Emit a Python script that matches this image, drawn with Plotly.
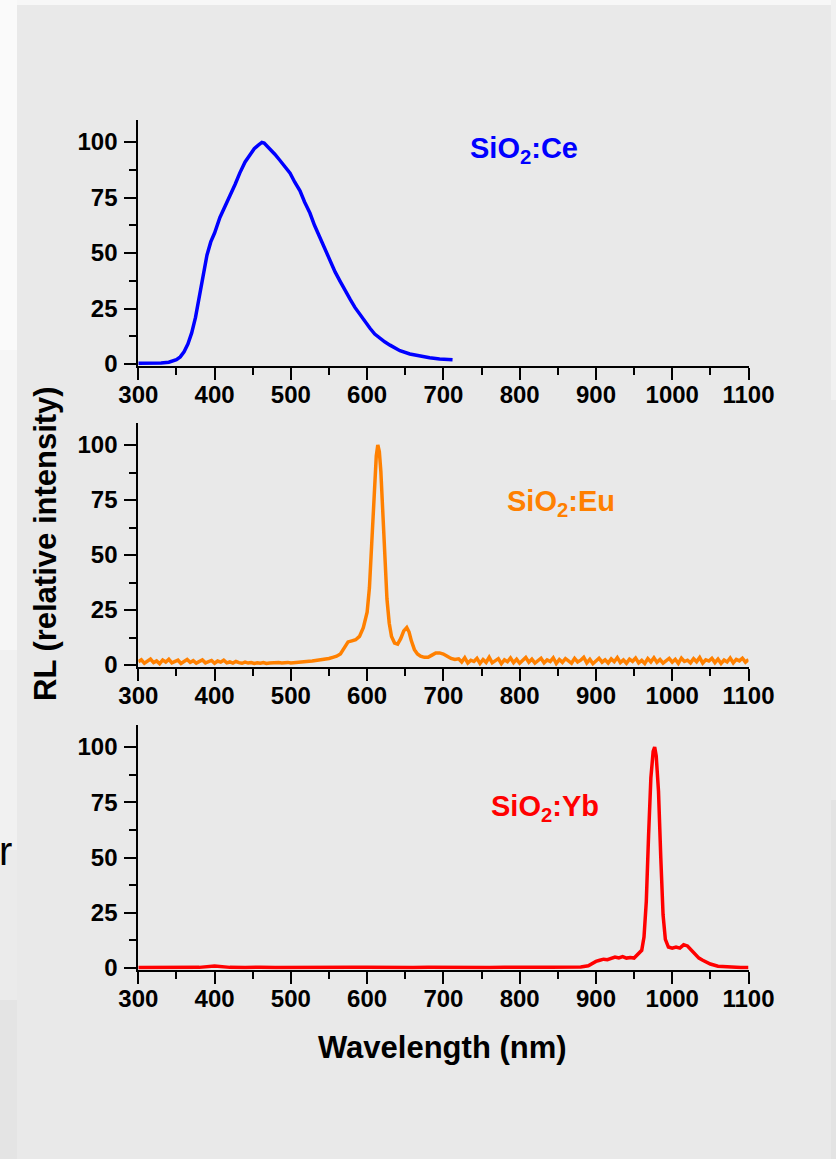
import numpy as np
import plotly.graph_objects as go

W, H = 836, 1159

# ---------------- data ----------------
ce_wl = [300, 310, 320, 330, 340, 345, 350, 355, 360, 365, 370, 375, 380, 385, 390, 395,
         400, 407, 414, 420, 427, 433, 440, 447, 452, 457, 462, 465, 468, 473, 479, 485,
         492, 499, 505, 512, 518, 525, 531, 538, 545, 551, 558, 565, 571, 578, 584, 591,
         597, 604, 610, 617, 623, 630, 637, 643, 656, 669, 682, 695, 705, 712]
ce_int = [0.3, 0.3, 0.4, 0.5, 0.8, 1.2, 2.0, 3.2, 5.5, 9, 14, 21, 31, 40, 49, 55,
          59, 66, 71, 76, 81, 86, 91, 94.5, 97, 98.5, 99.8, 99.5, 98.5, 96.5, 94.5, 92,
          89, 86, 82, 78, 73, 68, 62.5, 57, 51.5, 46.5, 41.5, 37, 33, 29, 25.5, 22,
          19, 16, 13.5, 11.5, 10, 8.5, 7, 6, 4.5, 3.5, 2.8, 2.3, 2.0, 1.9]

eu_base_wl = list(range(300, 544, 4))
eu_base = [1.5, 2.4, 0.8, 2.0, 2.7, 1.1, 1.9, 0.6, 2.3, 1.4,
           2.6, 1.0, 1.8, 2.2, 0.7, 1.6, 2.5, 1.2, 2.0, 0.9,
           1.7, 2.3, 1.0, 1.5, 2.1, 0.8, 1.8, 1.3, 2.2, 1.0,
           1.4, 0.9, 1.6, 1.1, 0.8, 1.3, 0.9, 1.1, 0.7, 1.0,
           0.8, 1.1, 0.7, 0.9, 1.0, 0.8, 1.1, 0.9, 1.0, 1.2,
           0.9, 1.1, 1.3, 1.2, 1.4, 1.5, 1.7, 1.8, 2.0, 2.2,
           2.4]
eu_peak_wl = [545, 550, 555, 560, 565, 570, 575, 580, 585, 590,
              595, 600, 603, 606, 609, 612, 614, 616, 618, 620,
              623, 626, 629, 632, 636, 640, 644, 648, 652, 655,
              658, 662, 666, 670, 675, 680, 685, 690, 695, 700,
              705, 710, 715]
eu_peak = [2.5, 3, 3.5, 4, 5, 8, 10.5, 11, 11.5, 13,
           17, 24, 35, 55, 78, 95, 100, 97, 88, 72,
           48, 30, 19, 13, 10, 9.5, 12, 15.5, 17, 15,
           11, 7, 5, 4, 3.5, 3.5, 4.5, 5.5, 5.5, 5,
           4, 3, 2.5]
eu_tail_wl = list(range(720, 1104, 4))
eu_tail = [2.8, 1.4, 3.3, 0.9, 2.2, 1.6, 3.0, 0.7, 2.5, 1.2,
           3.5, 1.0, 2.0, 2.9, 0.6, 2.4, 1.5, 3.2, 1.1, 2.6,
           0.8, 2.1, 3.4, 1.3, 2.7, 0.9, 1.8, 3.1, 1.0, 2.3,
           1.6, 3.3, 0.7, 2.5, 1.2, 2.9, 1.9, 0.8, 3.0, 1.4,
           2.2, 3.5, 1.0, 2.6, 0.6, 2.0, 3.1, 1.3, 2.4, 0.9,
           2.8, 1.5, 3.4, 1.1, 2.3, 0.8, 2.7, 1.7, 3.2, 1.0,
           2.1, 0.7, 2.9, 1.4, 3.3, 1.2, 2.5, 0.9, 2.0, 3.0,
           1.3, 2.6, 0.8, 3.1, 1.6, 2.2, 1.0, 2.9, 1.5, 3.4,
           0.9, 2.4, 1.8, 3.0, 1.1, 2.7, 0.7, 2.3, 1.4, 3.2,
           1.0, 2.6, 1.9, 3.1, 1.3, 2.5]

yb_base_wl = list(range(300, 900, 20))
yb_base = [0.2, 0.3, 0.4, 0.3, 0.3, 0.9, 0.3, 0.2, 0.4, 0.2,
           0.3, 0.2, 0.2, 0.3, 0.4, 0.3, 0.2, 0.3, 0.2, 0.3,
           0.2, 0.2, 0.3, 0.2, 0.3, 0.2, 0.3, 0.4, 0.3, 0.5]
yb_peak_wl = [890, 895, 900, 905, 910, 915, 920, 925, 930, 935,
              940, 945, 950, 955, 960, 963, 966, 969, 972, 975,
              977, 979, 982, 985, 988, 991, 995, 1000, 1005, 1010,
              1015, 1020, 1025, 1030, 1035, 1040, 1045, 1050, 1060, 1070,
              1080, 1090, 1100]
yb_peak = [1.0, 2.0, 3.0, 3.5, 4.0, 3.8, 4.5, 5.0, 4.6, 5.2,
           4.5, 4.8, 4.5, 6.0, 8, 14, 30, 60, 86, 98,
           100, 96, 80, 50, 24, 13, 9.5, 9.0, 9.5, 9.0,
           10.5, 10.0, 8.0, 6.5, 4.5, 3.5, 2.5, 1.8, 0.8, 0.5,
           0.3, 0.2, 0.2]

x_ticks = [300, 400, 500, 600, 700, 800, 900, 1000, 1100]
y_ticks = [0, 25, 50, 75, 100]
labels = ["SiO<sub>2</sub>:Ce", "SiO<sub>2</sub>:Eu", "SiO<sub>2</sub>:Yb"]
colors = ["#0000ff", "#ff8000", "#ff0000"]

eu_wl = eu_base_wl + eu_peak_wl + eu_tail_wl
eu_int = eu_base + eu_peak + eu_tail
yb_wl = yb_base_wl + yb_peak_wl
yb_int = yb_base + yb_peak

# ---------------- helpers ----------------
def px(x):
    return x / W

def py(y):
    return 1 - y / H

FONT = "Liberation Sans"

fig = go.Figure()
series = [(ce_wl, ce_int), (eu_wl, eu_int), (yb_wl, yb_int)]
for i, (xs, ys) in enumerate(series):
    sfx = "" if i == 0 else str(i + 1)
    fig.add_trace(go.Scatter(x=xs, y=ys, mode="lines",
                             line=dict(color=colors[i], width=3.5),
                             xaxis="x" + sfx, yaxis="y" + sfx,
                             showlegend=False, hoverinfo="skip"))

tickfont = dict(family=FONT, size=24, color="black", weight="bold")
common = dict(showline=True, linecolor="black", linewidth=2, ticks="outside",
              ticklen=12, tickwidth=2, tickcolor="black", showgrid=False,
              zeroline=False, tickfont=tickfont, layer="below traces",
              automargin=False)

xdom = [px(138.3), px(748.5)]
ydoms = [[py(365.8), py(119.8)], [py(666.8), py(423.0)], [py(969.8), py(724.9)]]

layout = dict(width=W, height=H, autosize=False,
              margin=dict(l=0, r=0, t=0, b=0, pad=0, autoexpand=False),
              paper_bgcolor="#f7f7f7", plot_bgcolor="rgba(0,0,0,0)",
              showlegend=False)

for i in range(3):
    sfx = "" if i == 0 else str(i + 1)
    layout["xaxis" + sfx] = dict(common, domain=xdom, range=[300, 1100],
                                 tickvals=x_ticks, anchor="y" + sfx,
                                 ticklabelstandoff=-6,
                                 minor=dict(dtick=50, tick0=300, ticklen=7, tickwidth=2,
                                            tickcolor="black", ticks="outside",
                                            showgrid=False))
    layout["yaxis" + sfx] = dict(common, domain=ydoms[i], range=[-0.8, 110],
                                 tickvals=y_ticks, anchor="x" + sfx,
                                 ticklabelstandoff=2,
                                 minor=dict(dtick=12.5, tick0=0, ticklen=7, tickwidth=2,
                                            tickcolor="black", ticks="outside",
                                            showgrid=False))

fig.update_layout(**layout)

# background panels
shapes = [
    dict(type="rect", xref="paper", yref="paper", x0=px(17), x1=px(831), y0=py(1159), y1=py(5),
         fillcolor="#e9e9e9", line=dict(width=0), layer="below"),
]
bands = [(0, 350, "#fafafa"), (350, 650, "#f6f6f6"), (650, 850, "#f1f1f1"),
         (850, 1000, "#ebebeb"), (1000, 1159, "#e4e4e4")]
for y0, y1, c in bands:
    shapes.append(dict(type="rect", xref="paper", yref="paper", x0=px(0), x1=px(17),
                       y0=py(y1), y1=py(y0), fillcolor=c, line=dict(width=0), layer="below"))
rbands = [(0, 400, "#f1f1f1"), (400, 800, "#eaeaea"), (800, 1159, "#e3e3e3")]
for y0, y1, c in rbands:
    shapes.append(dict(type="rect", xref="paper", yref="paper", x0=px(831), x1=px(836),
                       y0=py(y1), y1=py(y0), fillcolor=c, line=dict(width=0), layer="below"))
fig.update_layout(shapes=shapes)

ann = []
label_pos = [(524, 150), (561, 503), (545, 808)]
for i, (lx, ly) in enumerate(label_pos):
    ann.append(dict(text=labels[i], x=px(lx), y=py(ly), xref="paper", yref="paper",
                    xanchor="center", yanchor="middle", showarrow=False,
                    font=dict(family=FONT, size=29, color=colors[i], weight="bold")))
ann.append(dict(text="Wavelength (nm)", x=px(443), y=py(1047), xref="paper", yref="paper",
                xanchor="center", yanchor="middle", showarrow=False,
                font=dict(family=FONT, size=31, color="black", weight="bold")))
ann.append(dict(text="RL (relative intensity)", x=px(46), y=py(544), xref="paper", yref="paper",
                xanchor="center", yanchor="middle", showarrow=False, textangle=-90,
                font=dict(family=FONT, size=31, color="black", weight="bold")))
ann.append(dict(text="r", x=px(0), y=py(851), xref="paper", yref="paper",
                xanchor="left", yanchor="middle", showarrow=False, xshift=-3,
                font=dict(family=FONT, size=40, color="black")))
fig.update_layout(annotations=ann)

fig.write_html("out.html", post_script="document.body.style.margin='0';",
               config={"displayModeBar": False})
